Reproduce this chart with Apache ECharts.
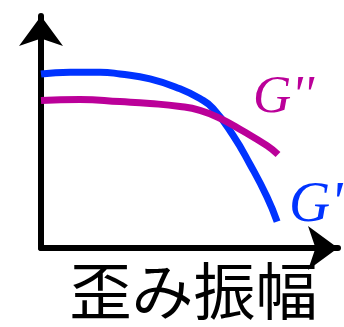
<!DOCTYPE html>
<html>
<head>
<meta charset="utf-8">
<style>
  html, body { margin: 0; padding: 0; background: #fff; }
  #chart-container { width: 344px; height: 327px; }
</style>
<script src="https://cdn.jsdelivr.net/npm/echarts@6/dist/echarts.min.js"></script>
</head>
<body>
<div id="chart-container"></div>
<script>
// strain amplitude (arbitrary units, 0-100) and moduli
var strainG1 = [0, 9.8, 19.9, 26.6, 36.7, 46.8, 53.5, 57.9, 64.6, 70.4, 76.1, 79.5];
var storageG1 = [75, 75.8, 75.8, 75, 72.9, 68.6, 64.4, 60.2, 48.7, 36, 22, 11.4];
var strainG2 = [0, 13.1, 26.6, 36.7, 46.8, 53.5, 60.3, 68, 76.1, 79.8];
var lossG2 = [63.6, 64, 63.1, 62.3, 61, 59.3, 55.9, 50.4, 44.1, 40.3];
var seriesNames = ["G'", "G''"];
var xAxisName = '歪み振幅';

function pairs(xs, ys) {
    return xs.map(function (x, i) { return [x, ys[i]]; });
}

var dom = document.getElementById('chart-container');
var myChart = echarts.init(dom, null, { renderer: 'canvas' });

var axisLineStyle = {
    show: true,
    symbol: ['none', 'arrow'],
    symbolSize: [33, 30],
    lineStyle: { color: '#000', width: 6 }
};

var option = {
    animation: false,
    grid: { left: 41, right: 6, top: 16, bottom: 75 },
    xAxis: {
        type: 'value',
        min: 0,
        max: 100,
        name: xAxisName,
        nameLocation: 'middle',
        nameGap: 12,
        nameTextStyle: { fontFamily: 'Noto Sans CJK JP', fontSize: 62, color: '#000', padding: [0, 0, 0, 8] },
        axisLine: axisLineStyle,
        axisTick: { show: false },
        axisLabel: { show: false },
        splitLine: { show: false }
    },
    yAxis: {
        type: 'value',
        min: 0,
        max: 100,
        axisLine: axisLineStyle,
        axisTick: { show: false },
        axisLabel: { show: false },
        splitLine: { show: false }
    },
    series: [
        {
            name: seriesNames[0],
            type: 'line',
            smooth: true,
            showSymbol: false,
            data: pairs(strainG1, storageG1),
            lineStyle: { color: '#0033ff', width: 7 },
            z: 3
        },
        {
            name: seriesNames[1],
            type: 'line',
            smooth: true,
            showSymbol: false,
            data: pairs(strainG2, lossG2),
            lineStyle: { color: '#bb0099', width: 7 },
            z: 4
        }
    ],
    graphic: [
        {
            type: 'text',
            left: 253,
            top: 72,
            style: {
                text: seriesNames[1],
                fill: '#bb0099',
                font: 'italic 53px "Liberation Serif"'
            }
        },
        {
            type: 'text',
            left: 289,
            top: 178,
            style: {
                text: seriesNames[0],
                fill: '#0033ff',
                font: 'italic 57px "Liberation Serif"'
            }
        }
    ]
};

myChart.setOption(option);
window.addEventListener('resize', myChart.resize);
</script>
</body>
</html>
